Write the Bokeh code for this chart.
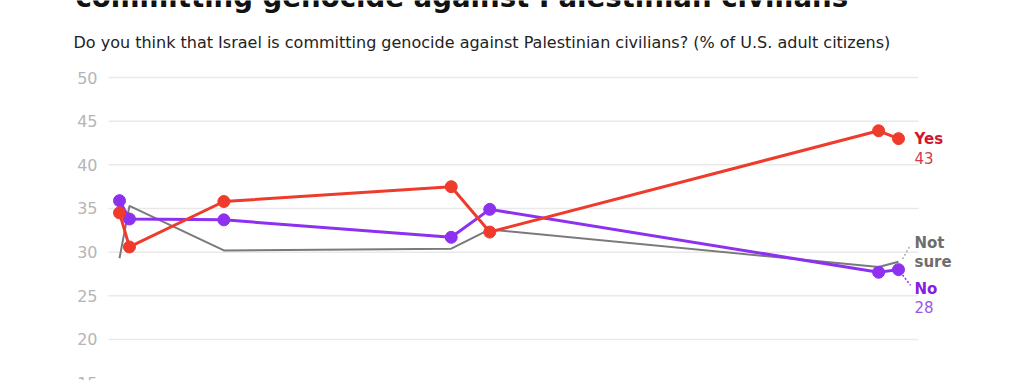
import pandas as pd
from bokeh.plotting import figure
from bokeh.models import Label, Range1d
from bokeh.core.properties import value
from bokeh.embed import file_html
from bokeh.resources import INLINE

# ---- data ----
dates = ["2023-11-20", "2023-11-28", "2024-02-12", "2024-08-13",
         "2024-09-13", "2025-07-23", "2025-08-08"]
yes = [34.5, 30.6, 35.8, 37.5, 32.3, 43.9, 43.0]
no = [35.9, 33.8, 33.7, 31.7, 34.9, 27.7, 28.0]
not_sure = [29.3, 35.3, 30.2, 30.4, 32.6, 28.3, 28.9]
y_ticks = [15, 20, 25, 30, 35, 40, 45, 50]
y_tick_labels = ["15", "20", "25", "30", "35", "40", "45", "50"]
title = "committing genocide against Palestinian civilians"
subtitle = ("Do you think that Israel is committing genocide against Palestinian "
            "civilians? (% of U.S. adult citizens)")

x = pd.to_datetime(dates)

RED = "#ee3b2b"
RED_TXT = "#d3162f"
RED_NUM = "#d8394a"
PURPLE = "#8d30f0"
PURPLE_TXT = "#8420e6"
PURPLE_NUM = "#9a55e6"
GRAY = "#7a7a7a"
GRAY_TXT = "#6e6e6e"
FONT = "DejaVu Sans"

W, H = 1016, 380
PX_FIRST, PX_LAST = 119, 898       # pixel columns of first / last poll
PY50, PY_PER_UNIT = 77, 8.733      # pixel row of 50 and pixels per point

tpp = (x[-1] - x[0]) / (PX_LAST - PX_FIRST)   # time per pixel
x_start = x[0] - tpp * PX_FIRST
x_end = x_start + tpp * W
y_top = 50 + PY50 / PY_PER_UNIT
y_bot = y_top - H / PY_PER_UNIT

def X(px):
    return x_start + tpp * px

def Y(py):
    return y_top - py / PY_PER_UNIT

p = figure(width=W, height=H, x_axis_type="datetime",
           output_backend="svg", toolbar_location=None,
           x_range=Range1d(x_start, x_end), y_range=Range1d(y_bot, y_top),
           min_border=0)
p.outline_line_color = None
p.background_fill_color = "white"
p.border_fill_color = "white"
p.xaxis.visible = False
p.yaxis.visible = False
p.grid.grid_line_color = None

# gridlines
n = len(y_ticks)
p.segment(x0=[X(108)] * n, y0=y_ticks, x1=[X(918)] * n, y1=y_ticks,
          line_color="#e9e9e9", line_width=1.5)
# tick labels
p.text(x=[X(97)] * n, y=y_ticks, text=y_tick_labels, text_align="right",
       text_baseline="middle", text_font=value(FONT), text_font_size="16px",
       text_color="#b5b5b5")

# title (cut off at the top, as in the source image) and subtitle
p.text(x=[X(75)], y=[Y(-3)], text=[title], text_align="left",
       text_baseline="alphabetic", text_font=value(FONT),
       text_font_style="bold", text_font_size="27.6px", text_color="#111111")
p.text(x=[X(73)], y=[Y(42)], text=[subtitle], text_align="left",
       text_baseline="middle", text_font=value(FONT), text_font_size="16px",
       text_color="#222222")

# lines
p.line(x, not_sure, color=GRAY, line_width=2)
p.line(x, no, color=PURPLE, line_width=3)
p.scatter(x, no, color=PURPLE, size=12)
p.line(x, yes, color=RED, line_width=3)
p.scatter(x, yes, color=RED, size=12)

# leader lines
p.segment(x0=[x[-1] + tpp * 4], y0=[not_sure[-1] + 0.3],
          x1=[x[-1] + tpp * 12], y1=[not_sure[-1] + 1.9],
          line_color="#b0b0a0", line_width=1.5, line_dash="2 2")
p.segment(x0=[x[-1] + tpp * 4], y0=[no[-1] - 0.6],
          x1=[x[-1] + tpp * 12], y1=[no[-1] - 1.8],
          line_color=PURPLE, line_width=1.5, line_dash="2 2")

def lab(text, yv, yoff, color, bold):
    p.add_layout(Label(x=x[-1], y=yv, x_offset=16, y_offset=yoff, text=text,
                       text_color=color, text_font=FONT, text_font_size="15px",
                       text_font_style="bold" if bold else "normal",
                       text_baseline="middle", text_align="left"))

lab("Yes", yes[-1], 0, RED_TXT, True)
lab(f"{round(yes[-1])}", yes[-1], -19, RED_NUM, False)
lab("Not", not_sure[-1], 19, GRAY_TXT, True)
lab("sure", not_sure[-1], 0, GRAY_TXT, True)
lab("No", no[-1], -19, PURPLE_TXT, True)
lab(f"{round(no[-1])}", no[-1], -37, PURPLE_NUM, False)

open("out.html", "w").write(file_html(p, INLINE))
